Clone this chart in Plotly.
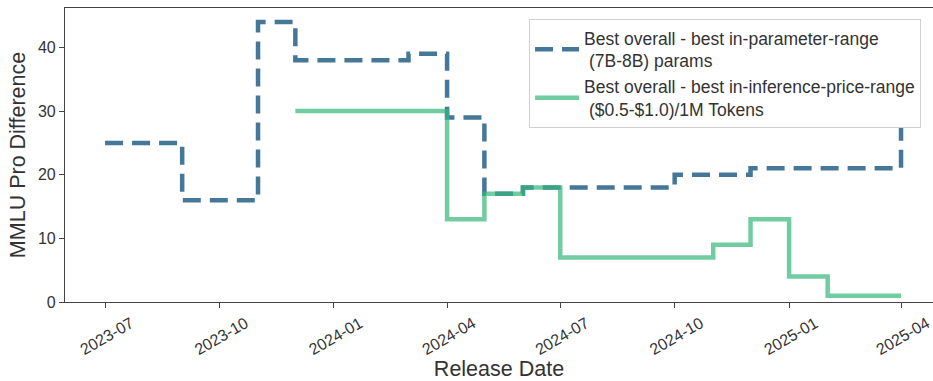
import plotly.graph_objects as go

# Monthly step series: gap between best overall model and best in-range model
param_dates = ["2023-07-01", "2023-09-01", "2023-11-01", "2023-12-01", "2024-03-01",
               "2024-04-01", "2024-05-01", "2024-06-01", "2024-10-01", "2024-12-01",
               "2025-04-01"]
param_diff = [25, 16, 44, 38, 39, 29, 17, 18, 20, 21, 29]

price_dates = ["2023-12-01", "2024-04-01", "2024-05-01", "2024-06-01", "2024-07-01",
               "2024-11-01", "2024-12-01", "2025-01-01", "2025-02-01", "2025-04-01"]
price_diff = [30, 13, 17, 18, 7, 9, 13, 4, 1, 1]

tick_dates = ["2023-07-01", "2023-10-01", "2024-01-01", "2024-04-01",
              "2024-07-01", "2024-10-01", "2025-01-01", "2025-04-01"]
tick_labels = ["2023-07", "2023-10", "2024-01", "2024-04",
               "2024-07", "2024-10", "2025-01", "2025-04"]
y_ticks = [0, 10, 20, 30, 40]

FONT = "Liberation Sans, Arial, sans-serif"
TXT = "#333333"

fig = go.Figure()
fig.add_trace(go.Scatter(
    x=param_dates, y=param_diff, mode="lines", line_shape="hv",
    line=dict(color="rgba(49,104,142,0.9)", width=4.5, dash="18px,9px"),
    name="Best overall - best in-parameter-range<br>\u00a0(7B-8B) params",
))
fig.add_trace(go.Scatter(
    x=price_dates, y=price_diff, mode="lines", line_shape="hv",
    line=dict(color="rgba(53,183,121,0.7)", width=4.5),
    name="Best overall - best in-inference-price-range<br>\u00a0($0.5-$1.0)/1M Tokens",
))

fig.update_layout(
    width=933, height=381,
    margin=dict(l=65, r=0, t=8, b=79),
    plot_bgcolor="white", paper_bgcolor="white",
    font=dict(family=FONT, color=TXT, size=16),
    legend=dict(
        x=0.5346, y=0.9626, xanchor="left", yanchor="top",
        bgcolor="white", bordercolor="#d0d0d0", borderwidth=1,
        itemwidth=44,
        font=dict(family=FONT, size=17.5, color=TXT),
    ),
    xaxis=dict(
        range=["2023-05-29 19:00", "2025-04-26 17:00"],
        tickvals=tick_dates, ticktext=tick_labels, tickangle=-30,
        ticks="outside", ticklen=5, tickwidth=1.2, tickcolor="#444",
        showline=True, linecolor="#444", linewidth=1.2, mirror=True,
        showgrid=False, zeroline=False,
        tickfont=dict(size=16, color=TXT),
        ticklabelshift=26,
        title=dict(text="Release Date", font=dict(size=21.5, color=TXT), standoff=4),
    ),
    yaxis=dict(
        range=[0, 46.2],
        tickvals=y_ticks,
        ticks="outside", ticklen=5, tickwidth=1.2, tickcolor="#444",
        showline=True, linecolor="#444", linewidth=1.2,
        showgrid=False, zeroline=False,
        tickfont=dict(size=16, color=TXT),
        title=dict(text="MMLU Pro Difference", font=dict(size=21.5, color=TXT), standoff=6),
    ),
)

fig.write_html("out.html")
